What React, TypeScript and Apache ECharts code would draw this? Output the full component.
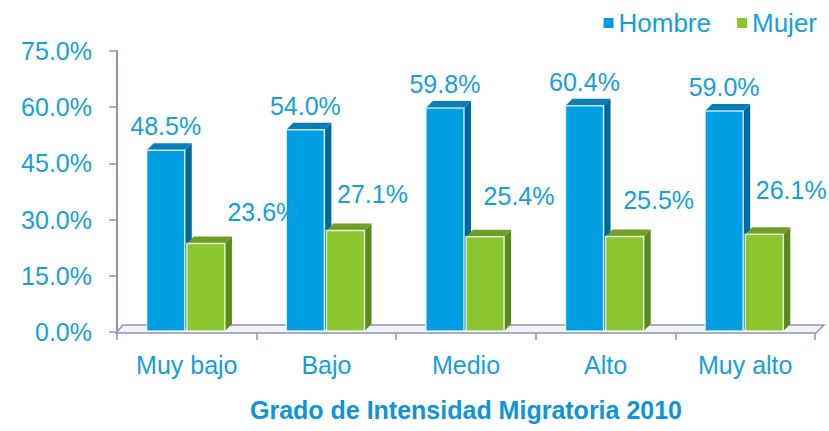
import React, { useEffect, useRef } from "react";
import * as echarts from "echarts";

const categories = ["Muy bajo", "Bajo", "Medio", "Alto", "Muy alto"];
const hombre = [48.5, 54.0, 59.8, 60.4, 59.0];
const mujer = [23.6, 27.1, 25.4, 25.5, 26.1];
const yTicks = [0, 15, 30, 45, 60, 75];
const seriesNames = ["Hombre", "Mujer"];
const xTitle = "Grado de Intensidad Migratoria 2010";

// label placement tweaks (pixels) for the Mujer labels, as in the original
const mujerLabelDx = [57, 27, 34, 34, 27];
const mujerLabelDy = [-32, -36, -41, -36, -44];

const TEXT = "#159FE0";
const AXIS = "#8E94BC";
const DEPTH = 7;
const FS = 25;
const FONT = "'Liberation Sans', Arial, sans-serif";

const palette = [
  { front: "#009FE3", top: "#0A7DB5", side: "#00699C" },
  { front: "#8BC630", top: "#6E9E25", side: "#5A8A1C" },
];

function makeRender(si: number) {
  return (params: any, api: any) => {
    const idx = api.value(0);
    const val = api.value(1);
    const base = api.coord([idx, 0]);
    const topP = api.coord([idx, val]);
    const cw = api.size([1, 0])[0];
    const bw = cw * 0.273;
    const c = base[0];
    const x0 = si === 0 ? c - bw - cw * 0.0145 : c;
    const x1 = x0 + bw;
    const yb = base[1] - 1;
    const yt = topP[1];
    const col = palette[si];
    const children: any[] = [
      {
        type: "polygon",
        shape: { points: [[x1, yb], [x1 + DEPTH, yb - DEPTH], [x1 + DEPTH, yt - DEPTH], [x1, yt]] },
        style: { fill: col.side },
      },
      {
        type: "polygon",
        shape: { points: [[x0, yt], [x0 + DEPTH, yt - DEPTH], [x1 + DEPTH, yt - DEPTH], [x1, yt]] },
        style: { fill: col.top },
      },
      {
        type: "rect",
        shape: { x: x0, y: yt, width: bw, height: yb - yt },
        style: { fill: col.front, stroke: "rgba(255,255,255,0.75)", lineWidth: 1.5 },
      },
    ];
    const lx = si === 0 ? (x0 + x1) / 2 : (x0 + x1) / 2 + mujerLabelDx[idx];
    const ly = si === 0 ? yt - 24 : yt + mujerLabelDy[idx];
    children.push({
      type: "text",
      style: {
        x: lx,
        y: ly,
        text: val.toFixed(1) + "%",
        fill: TEXT,
        font: `${FS}px ${FONT}`,
        align: "center",
        verticalAlign: "middle",
      },
    });
    return { type: "group", children };
  };
}

function renderFloor(params: any, api: any) {
  const cs = params.coordSys;
  const xl = cs.x - 1;
  const xr = cs.x + cs.width + 1;
  const yf = cs.y + cs.height + 1;
  const yk = yf - 8;
  return {
    type: "group",
    children: [
      {
        type: "polygon",
        shape: { points: [[xl, yf], [xl + 7, yk], [xr + 8, yk], [xr, yf]] },
        style: { fill: "#F1F2F8", stroke: AXIS, lineWidth: 1.5 },
      },
    ],
  };
}

export default function App() {
  const ref = useRef<HTMLDivElement>(null);
  useEffect(() => {
    if (!ref.current) return;
    const chart = echarts.init(ref.current, undefined, { renderer: "svg" });
    chart.setOption({
      animation: false,
      backgroundColor: "#ffffff",
      textStyle: { fontFamily: FONT },
      grid: { left: 117, right: 14, top: 51, bottom: 99 },
      legend: {
        right: 7,
        top: 5,
        itemWidth: 10,
        itemHeight: 10,
        itemGap: 26,
        icon: "rect",
        textStyle: { color: TEXT, fontSize: 26 },
        data: [
          { name: seriesNames[0], itemStyle: { color: palette[0].front } },
          { name: seriesNames[1], itemStyle: { color: palette[1].front } },
        ],
      },
      xAxis: {
        type: "category",
        data: categories,
        name: xTitle,
        nameLocation: "middle",
        nameGap: 65,
        nameTextStyle: { color: "#0E95D8", fontSize: FS, fontWeight: "bold" },
        axisLine: { show: false },
        axisTick: { show: true, alignWithLabel: false, length: 8, lineStyle: { color: AXIS, width: 1.5 } },
        axisLabel: { color: TEXT, fontSize: FS, margin: 20 },
      },
      yAxis: {
        type: "value",
        min: 0,
        max: 75,
        interval: 15,
        splitLine: { show: false },
        axisLine: { show: true, lineStyle: { color: AXIS, width: 2 } },
        axisTick: { show: true, length: 8, lineStyle: { color: AXIS, width: 1.5 } },
        axisLabel: {
          color: TEXT,
          fontSize: FS,
          margin: 25,
          formatter: (v: number) => (yTicks.includes(v) ? v.toFixed(1) + "%" : ""),
        },
      },
      series: [
        {
          type: "custom",
          name: "floor",
          renderItem: renderFloor,
          data: [[0, 0]],
          z: 1,
          silent: true,
        },
        {
          type: "custom",
          name: seriesNames[0],
          renderItem: makeRender(0),
          data: hombre.map((v, i) => [i, v]),
          itemStyle: { color: palette[0].front },
          z: 2,
        },
        {
          type: "custom",
          name: seriesNames[1],
          renderItem: makeRender(1),
          data: mujer.map((v, i) => [i, v]),
          itemStyle: { color: palette[1].front },
          z: 3,
        },
      ],
    });
    return () => chart.dispose();
  }, []);
  return (
    <div
      ref={ref}
      style={{ position: "fixed", left: 0, top: 0, width: 829, height: 431 }}
    />
  );
}
